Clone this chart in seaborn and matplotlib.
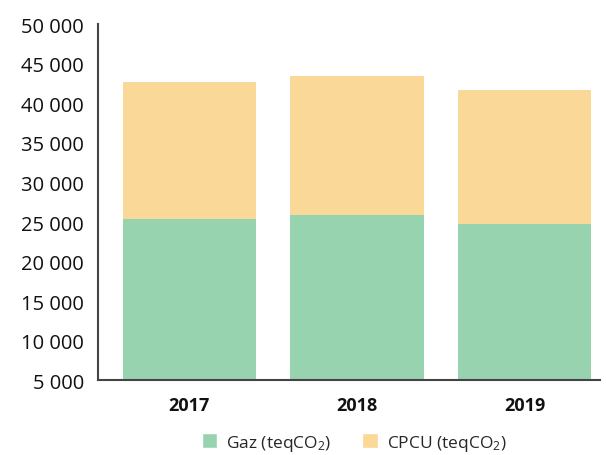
import numpy as np
import pandas as pd
import matplotlib
matplotlib.use("Agg")
import matplotlib.pyplot as plt
import seaborn as sns
from matplotlib.patches import Patch
from matplotlib.ticker import FuncFormatter

# ========== 数据 ==========
annees = ["2017", "2018", "2019"]
gaz = [25400, 25850, 24700]
cpcu = [17300, 17600, 16950]

COL_GAZ = "#98D3B0"
COL_CPCU = "#FAD898"

df = pd.DataFrame({"Annee": annees, "Gaz": gaz, "CPCU": cpcu})
df["Total"] = df["Gaz"] + df["CPCU"]

sns.set_style("white")
plt.rcParams["font.family"] = ["Open Sans", "DejaVu Sans"]
plt.rcParams["mathtext.fontset"] = "custom"
plt.rcParams["mathtext.rm"] = "Open Sans"
plt.rcParams["mathtext.default"] = "regular"

fig = plt.figure(figsize=(6.06, 4.56), dpi=100)
ax = fig.add_axes([0.1617, 0.1634, 0.8283, 0.7816])

sns.barplot(data=df, x="Annee", y="Total", color=COL_CPCU, width=0.795,
            saturation=1, linewidth=0, ax=ax)
sns.barplot(data=df, x="Annee", y="Gaz", color=COL_GAZ, width=0.795,
            saturation=1, linewidth=0, ax=ax)

ax.set_ylim(5000, 50000)
ax.set_xlim(-0.545, 2.45)
ax.set_yticks(np.arange(5000, 50001, 5000))
ax.yaxis.set_major_formatter(FuncFormatter(lambda v, p: f"{int(v):,}".replace(",", " ")))
ax.set_xticks(range(len(annees)))
ax.set_xticklabels(annees, fontweight="bold")
ax.tick_params(axis="y", labelsize=14.5, length=0, pad=10, labelcolor="#111111")
ax.tick_params(axis="x", labelsize=13, length=0, pad=11, labelcolor="#111111")
ax.set_xlabel("")
ax.set_ylabel("")

for s in ["top", "right"]:
    ax.spines[s].set_visible(False)
for s in ["left", "bottom"]:
    ax.spines[s].set_color("#444444")
    ax.spines[s].set_linewidth(1.5)

handles = [Patch(facecolor=COL_GAZ, label="Gaz (teqCO$_2$)"),
           Patch(facecolor=COL_CPCU, label="CPCU (teqCO$_2$)")]
fig.legend(handles=handles, loc="center", bbox_to_anchor=(0.584, 0.027),
           ncol=2, frameon=False, fontsize=12.5, handlelength=0.9,
           handleheight=0.9, columnspacing=1.8, handletextpad=0.5)

fig.savefig("out.png", dpi=100)
